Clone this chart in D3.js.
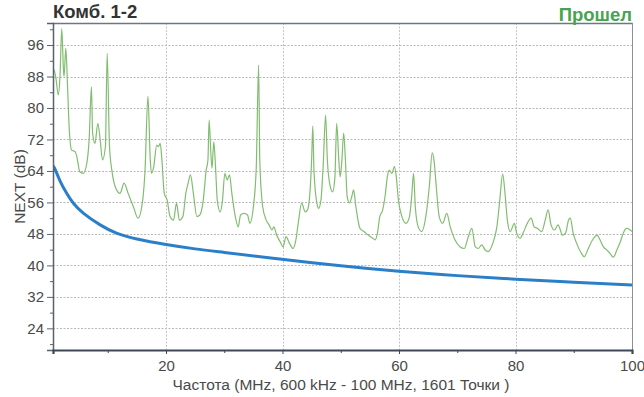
<!DOCTYPE html>
<html>
<head>
<meta charset="utf-8">
<script src="https://cdn.jsdelivr.net/npm/d3@7/dist/d3.min.js"></script>
<style>
  html, body { margin: 0; padding: 0; background: #fff; }
  svg { display: block; font-family: "Liberation Sans", Arial, sans-serif; }
</style>
</head>
<body>
<svg id="chart" width="644" height="397"></svg>
<script>
// Measured NEXT trace (frequency in MHz, value in dB)
const measFreq = [0.6, 0.8, 1.1, 1.5, 1.8, 2.1, 2.4, 2.5, 2.8, 3.1, 3.4, 3.8, 4.4, 4.7, 5.2, 5.8, 6.4, 6.8, 7.2, 7.4,
  7.8, 8.3, 8.7, 9.1, 9.6, 9.9, 10.3, 10.7, 11.5, 12.1, 12.8, 13.5, 14.4, 15.2, 16.0, 16.4, 16.9, 17.3, 17.5, 17.9,
  18.4, 18.7, 19.0, 19.3, 19.7, 20.2, 20.7, 21.3, 21.8, 22.3, 22.9, 23.4, 23.8, 24.2, 24.7, 25.3, 25.8, 26.4, 26.9, 27.2,
  27.4, 27.7, 27.9, 28.2, 28.5, 28.8, 29.3, 29.7, 30.1, 30.5, 30.9, 31.3, 31.8, 32.4, 32.8, 33.4, 34.0, 34.4, 35.0, 35.5,
  35.9, 36.1, 36.6, 37.2, 37.7, 38.2, 38.5, 39.0, 39.6, 40.1, 40.6, 41.2, 41.8, 42.3, 42.7, 43.3, 43.9, 44.3, 44.7, 45.0,
  45.2, 45.4, 45.9, 46.2, 46.6, 47.0, 47.4, 47.7, 48.2, 48.6, 49.0, 49.3, 49.7, 49.9, 50.2, 50.5, 50.8, 51.1, 51.5, 51.9,
  52.2, 52.6, 53.3, 54.0, 54.7, 55.5, 55.9, 56.3, 56.7, 57.2, 57.6, 58.0, 58.3, 58.8, 59.2, 59.5, 59.9, 60.5, 61.2, 61.8,
  62.2, 62.5, 62.8, 63.3, 63.9, 64.6, 65.2, 65.7, 66.0, 66.4, 66.9, 67.5, 68.2, 68.8, 69.6, 70.5, 71.2, 71.9, 72.5, 73.1,
  73.6, 74.2, 74.8, 75.3, 76.1, 76.8, 77.3, 77.8, 78.2, 78.6, 79.1, 79.8, 80.2, 80.8, 81.3, 81.9, 82.7, 83.2, 83.8, 84.5,
  85.1, 85.6, 86.1, 86.7, 87.3, 87.7, 88.0, 88.6, 89.1, 89.4, 89.9, 90.5, 91.3, 91.8, 92.5, 93.4, 94.0, 94.5, 95.1, 95.7,
  96.2, 96.8, 97.4, 98.0, 98.5, 99.1, 99.7, 100.0];
const measDb = [90.0, 89.6, 87.6, 83.3, 88.0, 100.2, 89.6, 88.0, 95.2, 85.4, 74.4, 69.3, 68.9, 67.6, 63.8, 63.4, 65.9, 71.9, 85.4, 73.6,
  71.0, 76.1, 71.9, 66.8, 70.2, 93.9, 70.2, 64.2, 59.2, 58.3, 60.9, 58.3, 54.9, 52.0, 56.6, 64.2, 83.0, 66.8, 63.4, 65.1,
  70.6, 70.2, 71.0, 66.8, 58.3, 56.6, 52.4, 51.5, 55.8, 51.5, 52.4, 58.3, 60.9, 63.0, 58.3, 52.4, 52.8, 56.6, 64.2, 66.8,
  76.9, 68.5, 64.7, 71.4, 65.1, 56.6, 53.6, 56.6, 63.4, 61.7, 63.0, 58.3, 53.2, 49.8, 52.8, 53.2, 52.8, 50.7, 54.9, 65.1,
  90.9, 66.8, 54.9, 51.5, 50.3, 49.0, 49.8, 47.7, 46.0, 44.7, 47.3, 45.6, 44.3, 46.5, 50.7, 55.8, 53.6, 54.1, 58.3, 66.8,
  75.4, 64.2, 55.8, 54.5, 56.6, 65.9, 78.2, 66.8, 60.0, 58.7, 62.5, 76.1, 65.9, 62.5, 66.8, 73.6, 66.8, 57.5, 55.9, 57.5,
  59.2, 54.9, 49.4, 48.6, 47.7, 46.9, 46.5, 48.2, 52.4, 54.1, 57.5, 62.5, 64.2, 63.4, 65.1, 63.0, 56.6, 52.4, 50.7, 52.4,
  58.0, 63.4, 54.9, 49.8, 48.6, 52.4, 60.0, 68.6, 66.8, 60.0, 52.4, 50.7, 53.2, 49.8, 46.5, 44.7, 44.3, 47.3, 49.4, 44.7,
  44.3, 45.2, 43.9, 43.5, 45.6, 49.8, 56.6, 63.2, 58.3, 51.5, 48.6, 50.7, 48.2, 46.9, 48.2, 50.3, 52.0, 49.8, 49.4, 48.6,
  51.5, 54.1, 50.3, 49.0, 50.3, 49.0, 47.7, 48.2, 51.5, 52.0, 48.2, 45.6, 43.1, 42.2, 44.3, 46.9, 47.7, 46.5, 44.7, 43.9,
  43.1, 42.1, 43.9, 46.0, 48.2, 49.4, 49.0, 48.6];

// Limit line (frequency in MHz, value in dB)
const limitFreq = [0.6, 1.0, 1.8, 3.0, 4.1, 5.8, 8.7, 11.5, 15, 20, 25, 30, 38, 50, 60, 70, 80, 90, 100];
const limitDb = [65.3, 64.3, 61.5, 58.2, 55.8, 53.3, 50.3, 48.2, 46.7, 45.3, 44.2, 43.3, 41.9, 39.9, 38.5, 37.4, 36.5, 35.7, 35.0];

const yMajorTicks = [24, 32, 40, 48, 56, 64, 72, 80, 88, 96];
const yMinorTicks = [20, 28, 36, 44, 52, 60, 68, 76, 84, 92, 100];
const xMajorTicks = [20, 40, 60, 80, 100];
const xMinorTicks = [10, 30, 50, 70, 90];

const titleText = "Комб. 1-2";
const statusText = "Прошел";
const yLabel = "NEXT (dB)";
const xLabel = "Частота (MHz, 600 kHz - 100 MHz, 1601 Точки )";

const svg = d3.select("#chart");
const L = 53, R = 632, T = 23, B = 350;

const x = d3.scaleLinear().domain([0.6, 100]).range([L, R]);
const y = d3.scaleLinear().domain([18.5, 101.6]).range([B, T]);

// Grid
const grid = svg.append("g");
grid.selectAll("line.h").data(yMajorTicks).join("line")
  .attr("x1", L).attr("x2", R)
  .attr("y1", d => Math.round(y(d)) + 0.5).attr("y2", d => Math.round(y(d)) + 0.5)
  .attr("stroke", "#b8b8b8").attr("stroke-width", 1).attr("stroke-dasharray", "2,1.5");
grid.selectAll("line.v").data(xMajorTicks.filter(d => d < 100)).join("line")
  .attr("x1", d => Math.round(x(d)) + 0.5).attr("x2", d => Math.round(x(d)) + 0.5)
  .attr("y1", T).attr("y2", B)
  .attr("stroke", "#c4c4c4").attr("stroke-width", 1).attr("stroke-dasharray", "2,1.5");

// Frame (top and right)
svg.append("line").attr("x1", L).attr("x2", R + 0.5).attr("y1", T + 0.5).attr("y2", T + 0.5)
  .attr("stroke", "#6d7780").attr("stroke-width", 1.5);
svg.append("line").attr("x1", R + 0.5).attr("x2", R + 0.5).attr("y1", T).attr("y2", B)
  .attr("stroke", "#8a8f94").attr("stroke-width", 1);

// Clip for the traces
svg.append("clipPath").attr("id", "plot").append("rect")
  .attr("x", L).attr("y", T).attr("width", R - L).attr("height", B - T);

const measLine = d3.line().x(d => x(d[0])).y(d => y(d[1])).curve(d3.curveMonotoneX);
const limitLine = d3.line().x(d => x(d[0])).y(d => y(d[1])).curve(d3.curveNatural);

const meas = measFreq.map((f, i) => [f, measDb[i]]);
const limit = limitFreq.map((f, i) => [f, limitDb[i]]);

svg.append("path").datum(meas)
  .attr("clip-path", "url(#plot)")
  .attr("d", measLine).attr("fill", "none")
  .attr("stroke", "#80bd70").attr("stroke-width", 1.2).attr("stroke-linejoin", "round");

svg.append("path").datum(limit)
  .attr("clip-path", "url(#plot)")
  .attr("d", limitLine).attr("fill", "none")
  .attr("stroke", "#2b7fc9").attr("stroke-width", 3).attr("stroke-linecap", "round");

// Y axis
const yAxis = d3.axisLeft(y).tickValues(yMajorTicks).tickSize(6).tickPadding(3).tickFormat(d3.format("d"));
const gy = svg.append("g").attr("transform", `translate(${L},0)`).call(yAxis);
gy.select(".domain").attr("stroke", "#59626b").attr("stroke-width", 1.5);
gy.selectAll(".tick line").attr("stroke", "#59626b");
gy.selectAll(".tick text").attr("fill", "#4a4a4a").style("font-size", "15px")
  .style("font-family", "'Liberation Sans', Arial, sans-serif");
const yMinor = d3.axisLeft(y).tickValues(yMinorTicks).tickSize(3).tickFormat("");
const gym = svg.append("g").attr("transform", `translate(${L},0)`).call(yMinor);
gym.select(".domain").remove();
gym.selectAll(".tick line").attr("stroke", "#59626b");

// X axis
const xAxis = d3.axisBottom(x).tickValues(xMajorTicks).tickSize(4).tickPadding(6).tickFormat(d3.format("d"));
const gx = svg.append("g").attr("transform", `translate(0,${B})`).call(xAxis);
gx.select(".domain").attr("stroke", "#3c4856").attr("stroke-width", 2.2);
gx.selectAll(".tick line").attr("stroke", "#3c4856");
gx.selectAll(".tick text").attr("fill", "#4a4a4a").style("font-size", "15px")
  .style("font-family", "'Liberation Sans', Arial, sans-serif");
const xMinor = d3.axisBottom(x).tickValues(xMinorTicks).tickSize(3).tickFormat("");
const gxm = svg.append("g").attr("transform", `translate(0,${B})`).call(xMinor);
gxm.select(".domain").remove();
gxm.selectAll(".tick line").attr("stroke", "#3c4856");

// Titles
svg.append("text").attr("x", L).attr("y", 18)
  .attr("font-size", 18.5).attr("font-weight", "bold").attr("fill", "#333")
  .text(titleText);
svg.append("text").attr("x", R).attr("y", 21).attr("text-anchor", "end")
  .attr("font-size", 18.5).attr("font-weight", "bold").attr("fill", "#47a351")
  .text(statusText);

svg.append("text")
  .attr("transform", `translate(25,${(T + B) / 2}) rotate(-90)`)
  .attr("text-anchor", "middle").attr("font-size", 15.5).attr("fill", "#4a4a4a")
  .text(yLabel);
svg.append("text").attr("x", 341).attr("y", 390)
  .attr("text-anchor", "middle").attr("font-size", 15.5).attr("fill", "#4a4a4a")
  .text(xLabel);
</script>
</body>
</html>
